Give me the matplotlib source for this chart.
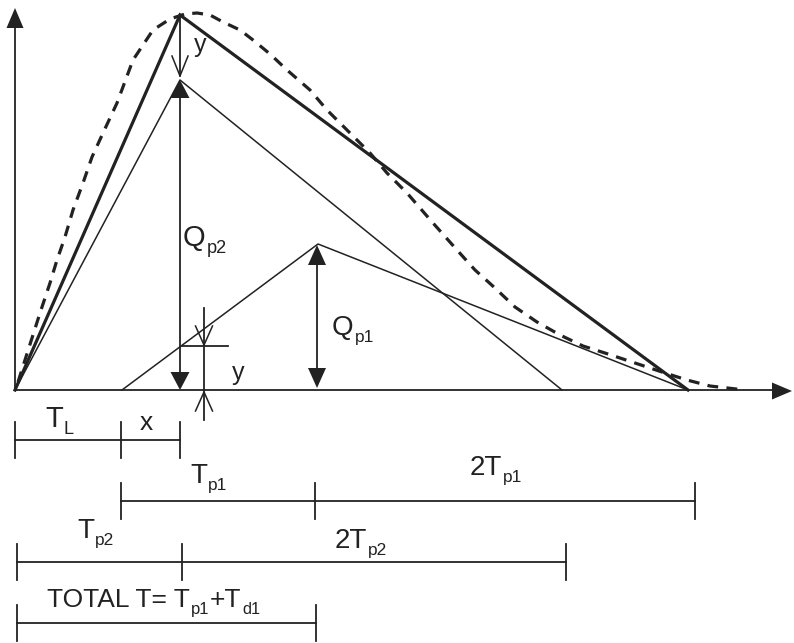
import matplotlib
matplotlib.use("Agg")
from matplotlib import pyplot as plt
import numpy as np

# Unit hydrograph superposition sketch (coordinates in image pixels, y down)

# Composite hydrograph (thick triangle)
total_x = [15, 180, 688]
total_y = [390, 15, 390]

# Triangle for Qp2 (thin)
tri2_x = [15, 180, 562]
tri2_y = [390, 80, 390]

# Triangle for Qp1 (thin), lagged start
tri1_x = [122, 318, 688]
tri1_y = [390, 244, 390]

curve_x = [18, 25, 40, 50, 57, 65, 73, 83, 92, 103, 117, 133, 153, 170, 185, 197,
           210, 223, 240, 253, 270, 287, 310, 327, 347, 370, 387, 407, 433, 457,
           475, 495, 515, 537, 560, 583, 608, 635, 662, 687, 710, 745]
curve_y = [382, 360, 313, 283, 260, 237, 210, 183, 157, 133, 103, 60, 30, 19, 14, 13,
           15, 22, 30, 40, 54, 70, 90, 110, 130, 153, 173, 193, 223, 250,
           270, 288, 307, 322, 335, 346, 354, 363, 372, 380, 386, 390]

# Dimension rows: (y, tick positions, labels)
row1_ticks = [15, 121, 180]
row2_ticks = [121, 315, 695]
row3_ticks = [17, 182, 566]
row4_ticks = [17, 316]
row_y = [440, 501, 562, 623]

THICK = 2.3
THIN = 1.1
AXW = 1.3


def head(ax, tip, direction, length, width, filled=True, lw=1.1):
    tx, ty = tip
    dx, dy = direction
    n = np.hypot(dx, dy)
    dx, dy = dx / n, dy / n
    bx, by = tx - dx * length, ty - dy * length
    px, py = -dy * width / 2, dx * width / 2
    xs = [bx + px, tx, bx - px]
    ys = [by + py, ty, by - py]
    if filled:
        ax.fill(xs + [bx + px], ys + [by + py], color='#222222', lw=0, zorder=5)
    else:
        ax.plot(xs, ys, color='#222222', lw=lw, solid_joinstyle='miter', zorder=5)


def sub_label(ax, x, y, main, sub, size):
    t = ax.text(x, y, main, fontsize=size, ha='left', va='baseline',
                family='Liberation Sans', color='#222222')
    fig = ax.figure
    fig.canvas.draw()
    bb = t.get_window_extent()
    inv = ax.transData.inverted()
    x1 = inv.transform((bb.x1, bb.y0))[0]
    ax.text(x1 + 1, y + size * 0.35, sub, fontsize=size * 0.62, ha='left', va='baseline',
            family='Liberation Sans', color='#222222')


fig = plt.figure(figsize=(7.94, 6.43), dpi=100)
ax = fig.add_axes([0, 0, 1, 1])
ax.set_xlim(0, 794)
ax.set_ylim(643, 0)
ax.axis('off')

ink = '#222222'

# axes
ax.plot([15, 15], [390, 22], color=ink, lw=AXW)
head(ax, (15, 8), (0, -1), 20, 17)
ax.plot([15, 776], [390, 390], color=ink, lw=AXW)
head(ax, (792, 391), (1, 0), 20, 17)

# hydrographs
ax.plot(total_x, total_y, color=ink, lw=THICK, solid_joinstyle='miter')
ax.plot(tri2_x, tri2_y, color=ink, lw=THIN)
ax.plot(tri1_x, tri1_y, color=ink, lw=THIN)
dash, = ax.plot(curve_x, curve_y, color=ink, lw=THICK)
dash.set_dashes([3.4, 2.6])

# Qp2 double arrow
ax.plot([180, 180], [95, 375], color=ink, lw=AXW)
head(ax, (180, 80), (0, -1), 18, 19)
head(ax, (180, 390), (0, 1), 18, 19)

# y arrow at top
ax.plot([180, 180], [15, 76], color=ink, lw=AXW)
head(ax, (180, 76), (0, 1), 20, 16, filled=False)

# Qp1 double arrow
ax.plot([317, 317], [262, 372], color=ink, lw=AXW)
head(ax, (317, 245), (0, -1), 20, 18)
head(ax, (317, 388), (0, 1), 20, 18)

# small y dimension near Tp2
ax.plot([204, 204], [308, 420], color=ink, lw=AXW)
ax.plot([182, 228], [346, 346], color=ink, lw=AXW)
head(ax, (204, 345), (0, 1), 19, 17, filled=False)
head(ax, (204, 392), (0, -1), 19, 17, filled=False)

# labels on the chart
ax.text(194, 52, 'y', fontsize=18, family='Liberation Sans', color=ink, va='baseline')
ax.text(232, 380, 'y', fontsize=18, family='Liberation Sans', color=ink, va='baseline')
sub_label(ax, 183, 246, 'Q', 'p2', 21)
sub_label(ax, 332, 335, 'Q', 'p1', 20)

# dimension rows
rows = [row1_ticks, row2_ticks, row3_ticks, row4_ticks]
for yy, ticks in zip(row_y, rows):
    ax.plot([ticks[0], ticks[-1]], [yy, yy], color=ink, lw=AXW)
    for tx in ticks:
        ax.plot([tx, tx], [yy - 18, yy + 18], color=ink, lw=AXW)

sub_label(ax, 45, 427, 'T', 'L', 21)
ax.text(140, 430, 'x', fontsize=19, family='Liberation Sans', color=ink, va='baseline')
sub_label(ax, 190, 483, 'T', 'p1', 20)
sub_label(ax, 470, 475, '2T', 'p1', 20)
sub_label(ax, 77, 538, 'T', 'p2', 20)
sub_label(ax, 335, 548, '2T', 'p2', 20)

t = ax.text(47, 607, 'TOTAL T= T', fontsize=19, family='Liberation Sans', color=ink,
            va='baseline')
fig.canvas.draw()
bb = t.get_window_extent()
x1 = ax.transData.inverted().transform((bb.x1, bb.y0))[0]
ax.text(x1 + 1, 614, 'p1', fontsize=12, family='Liberation Sans', color=ink, va='baseline')
sub_label(ax, x1 + 20, 607, '+T', 'd1', 19)

plt.savefig('out.png', dpi=100)
